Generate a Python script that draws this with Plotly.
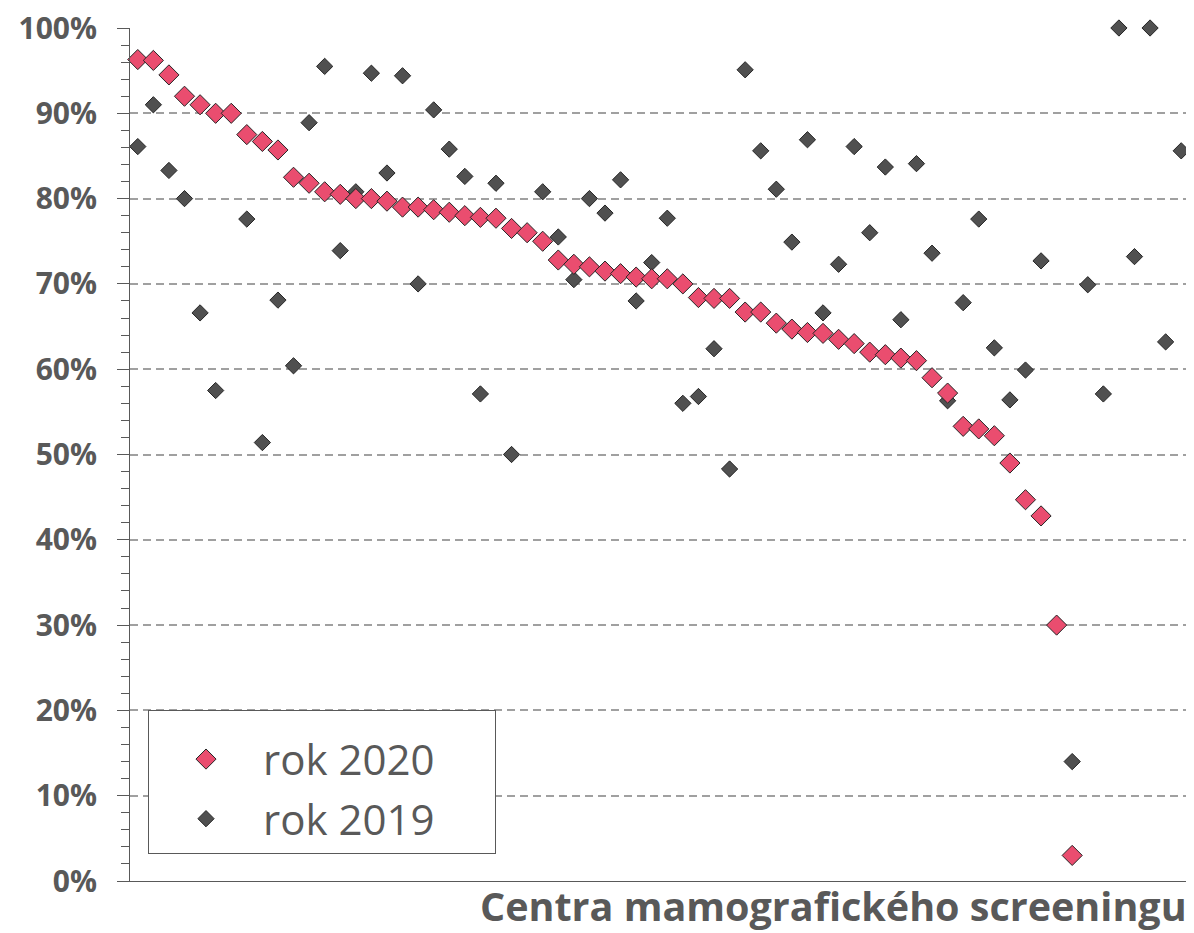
import plotly.graph_objects as go

# Screening centres (index only, no labels on the axis)
centers = list(range(1, 69))

# Coverage in 2020 (%), sorted descending; last centres have no 2020 value
rok_2020 = [96.3, 96.2, 94.5, 92.0, 91.0, 90.0, 90.0, 87.5, 86.7, 85.7,
            82.5, 81.8, 80.8, 80.5, 80.0, 80.0, 79.7, 79.0, 79.0, 78.7,
            78.4, 78.0, 77.8, 77.7, 76.5, 76.0, 75.0, 72.8, 72.3, 72.0,
            71.5, 71.2, 70.8, 70.6, 70.6, 70.0, 68.4, 68.3, 68.3, 66.7,
            66.7, 65.4, 64.7, 64.3, 64.2, 63.5, 63.0, 62.0, 61.7, 61.3,
            61.0, 59.0, 57.2, 53.3, 53.0, 52.2, 49.0, 44.7, 42.8, 30.0,
            3.0, None, None, None, None, None, None, None]

# Coverage in 2019 (%)
rok_2019 = [86.1, 91.0, 83.3, 80.0, 66.6, 57.5, None, 77.6, 51.4, 68.1,
            60.4, 88.9, 95.5, 73.9, 80.8, 94.7, 83.0, 94.4, 70.0, 90.4,
            85.8, 82.6, 57.1, 81.8, 50.0, None, 80.8, 75.5, 70.5, 80.0,
            78.3, 82.2, 68.0, 72.5, 77.7, 56.0, 56.8, 62.4, 48.3, 95.1,
            85.6, 81.1, 74.9, 86.9, 66.6, 72.3, 86.1, 76.0, 83.7, 65.8,
            84.1, 73.6, 56.3, 67.8, 77.6, 62.5, 56.4, 59.9, 72.7, None,
            14.0, 69.9, 57.1, 100.0, 73.2, 100.0, 63.2, 85.6]

y_ticks = list(range(0, 101, 10))
y_tick_labels = [f"{v}%" for v in y_ticks]

GREY_TXT = "#595959"
PAD = "&nbsp;" * 5

fig = go.Figure()

fig.add_trace(go.Scatter(
    x=centers, y=rok_2019, mode="markers", name="rok 2019" + PAD,
    legendgroup="b", legendrank=2,
    marker=dict(symbol="diamond", size=12.5, color="#505050",
                line=dict(color="#262626", width=1)),
    cliponaxis=False,
))
fig.add_trace(go.Scatter(
    x=centers, y=rok_2020, mode="markers", name="rok 2020" + PAD,
    legendgroup="a", legendrank=1,
    marker=dict(symbol="diamond", size=15.5, color="#EA4D6F",
                line=dict(color="#262626", width=1)),
    cliponaxis=False,
))

# The page body has an 8px margin, so the figure is sized to fit inside it.
fig.update_layout(
    width=1186, height=925,
    margin=dict(l=122, r=5, t=20, b=52, autoexpand=False),
    paper_bgcolor="white", plot_bgcolor="white",
    font=dict(family="Open Sans", color=GREY_TXT),
    showlegend=True,
    legend=dict(
        x=0.017, y=0.2005, xanchor="left", yanchor="top",
        bgcolor="white", bordercolor="#595959", borderwidth=1,
        font=dict(family="Open Sans", size=42, color=GREY_TXT),
        title=dict(text="&nbsp;", font=dict(size=11)),
        traceorder="grouped", tracegroupgap=2,
        itemsizing="trace", itemwidth=104,
    ),
    xaxis=dict(
        range=[0.5, 68.5], showgrid=False, zeroline=False,
        showticklabels=False, ticks="", automargin=False,
        showline=True, linecolor="#595959", linewidth=1,
    ),
    yaxis=dict(
        range=[0, 100], tickvals=y_ticks, ticktext=y_tick_labels,
        showgrid=True, gridcolor="#A0A0A0", gridwidth=2, griddash="8px,5px",
        zeroline=False, automargin=False, ticklabeloverflow="allow",
        showline=True, linecolor="#595959", linewidth=1,
        ticks="outside", ticklen=12, tickcolor="#595959",
        ticklabelstandoff=14,
        tickfont=dict(family="Open Sans", size=30, color=GREY_TXT, weight="bold"),
        minor=dict(dtick=2, ticks="outside", ticklen=8, tickcolor="#595959",
                   showgrid=False),
    ),
)

fig.add_annotation(
    text="<b>Centra mamografického screeningu</b>",
    xref="paper", yref="paper", x=1.0, y=0.0,
    xanchor="right", yanchor="middle", yshift=-25, showarrow=False,
    font=dict(family="Open Sans", size=39.5, color=GREY_TXT),
)

fig.write_html("out.html")
